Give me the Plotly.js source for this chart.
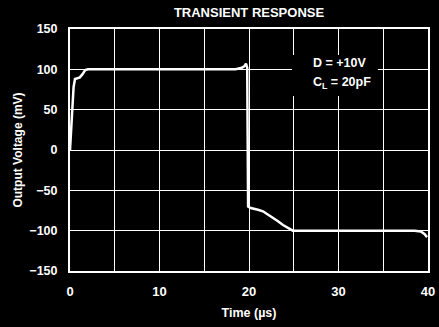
<!DOCTYPE html>
<html>
<head>
<meta charset="utf-8">
<script src="https://cdn.plot.ly/plotly-3.0.1.min.js"></script>
<style>html,body{margin:0;padding:0;background:#000;}#chart{width:439px;height:327px;}</style>
</head>
<body>
<div id="chart"></div>
<script>
const timeUs = [0, 0.1, 0.22, 0.4, 0.56, 0.8, 1.1, 1.4, 1.7, 2.0, 5, 10, 15, 18.5, 19.2, 19.5, 19.66, 19.8, 19.9, 20.2, 21.0, 21.56, 22.1, 22.68, 23.2, 23.8, 24.4, 24.9, 25.5, 30, 35, 38.5, 39.2, 39.6, 39.9];
const outputMv = [0, 20, 50, 78, 88, 89, 90, 94, 99, 100, 100, 100, 100, 100, 102, 104, 107, 102, -70, -72, -74, -76, -80, -84, -88, -93, -97, -100, -100, -100, -100, -100, -101, -104, -108];
const xTickVals = [0, 10, 20, 30, 40];
const xTickText = ["0", "10", "20", "30", "40"];
const yTickVals = [-150, -100, -50, 0, 50, 100, 150];
const yTickText = ["\u2212150", "\u2212100", "\u221250", "0", "50", "100", "150"];
const noteLines = ["D = +10V", "C<sub>L</sub> = 20pF"];

const fam = "Liberation Sans, Arial, sans-serif";
const f = (s) => ({family: fam, color: "#fff", size: s, weight: "bold"});

Plotly.newPlot("chart", [{
  x: timeUs, y: outputMv, type: "scatter", mode: "lines",
  line: {color: "#fff", width: 2.5}, hoverinfo: "skip"
}], {
  width: 439, height: 327,
  paper_bgcolor: "#000", plot_bgcolor: "#000",
  margin: {l: 70, r: 11, t: 29, b: 56},
  font: f(12.5),
  showlegend: false,
  title: {text: "TRANSIENT RESPONSE", font: f(13), x: 0.5, xref: "paper", y: 1 - 12/327, yref: "container", yanchor: "middle"},
  xaxis: {
    range: [0, 40], tickvals: xTickVals, ticktext: xTickText,
    showgrid: true, gridcolor: "#fff", gridwidth: 1,
    minor: {dtick: 5, tick0: 0, showgrid: true, gridcolor: "#fff", gridwidth: 1, ticks: ""},
    showline: true, linecolor: "#fff", linewidth: 2, mirror: true,
    zeroline: false, ticks: "", ticklabelstandoff: 7,
    tickfont: f(13),
    title: {text: "Time (\u00b5s)", font: f(12.5), standoff: 11}
  },
  yaxis: {
    range: [-150, 150], tickvals: yTickVals, ticktext: yTickText,
    showgrid: true, gridcolor: "#fff", gridwidth: 1,
    showline: true, linecolor: "#fff", linewidth: 2, mirror: true,
    zeroline: false, ticks: "", ticklabelstandoff: 8,
    tickfont: f(12.5),
    title: {text: "Output Voltage (mV)", font: f(12), standoff: 4}
  },
  shapes: [
    {type: "rect", xref: "paper", yref: "paper", x0: 0.62, x1: 0.86, y0: 0.723, y1: 0.893, fillcolor: "#000", line: {width: 0}, layer: "above"}
  ],
  annotations: [
    {text: noteLines[0], x: 0.673, y: 0.8595, xref: "paper", yref: "paper", showarrow: false, xanchor: "left", yanchor: "middle", font: f(12.5)},
    {text: noteLines[1], x: 0.673, y: 0.777, xref: "paper", yref: "paper", showarrow: false, xanchor: "left", yanchor: "middle", font: f(12.5)}
  ]
}, {staticPlot: true, displayModeBar: false});
</script>
</body>
</html>
